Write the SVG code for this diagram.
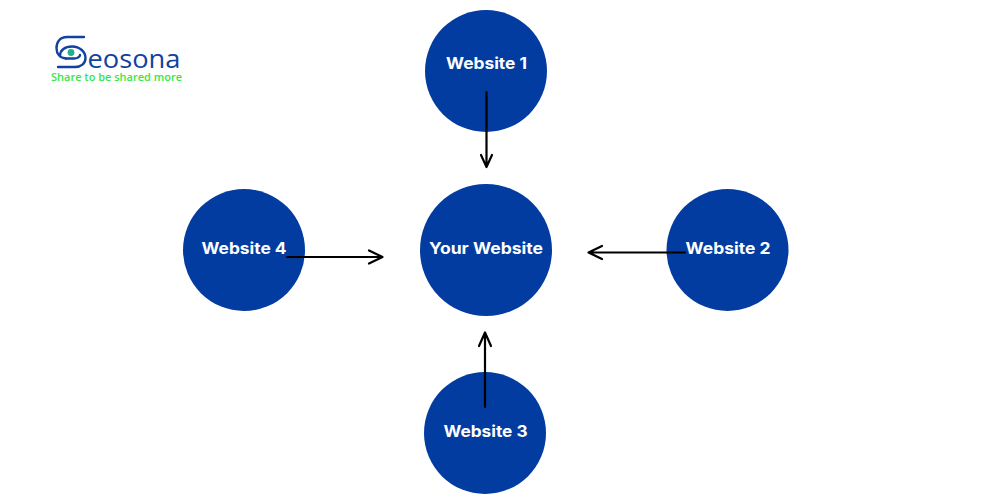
<svg xmlns="http://www.w3.org/2000/svg" width="1000" height="500" viewBox="0 0 1000 500">
<style>
.c{fill:#023ca0}
.t{font-family:Inter,"Liberation Sans",sans-serif;font-weight:700;font-size:16px;fill:#fff;text-anchor:middle}
.a{fill:none;stroke:#000;stroke-width:2.2;stroke-linecap:round;stroke-linejoin:round}
.s{fill:none;stroke:#12429f;stroke-width:2.4;stroke-linecap:round;stroke-linejoin:round}
</style>
<rect width="1000" height="500" fill="#fff"/>
<g id="logo">
<path class="s" d="M84 37H67C60 37 56.500 42 56.500 48C56.500 54 60 58 66 58.500"/>
<path class="s" d="M60 56C60 50 65 46.500 72 46.500C80 46.500 85.500 52 85.500 58C85.500 63.500 81 67 75 67H58"/>
<path class="s" d="M66 58.500H74C77 58.500 80 57 80 55"/>
<circle cx="71" cy="52.500" r="3.400" fill="#1fb08f"/>
<text x="87.500" y="67.500" font-family="'Open Sans','Liberation Sans',sans-serif" font-size="26" fill="#12429f" textLength="93" lengthAdjust="spacingAndGlyphs">eosona</text>
<text x="51" y="81" font-family="'Open Sans','Liberation Sans',sans-serif" font-size="11.500" font-weight="600" fill="#35e845" textLength="131" lengthAdjust="spacingAndGlyphs">Share to be shared more</text>
</g>
<g id="node-your-website"><circle class="c" cx="486" cy="250" r="66"/><text class="t" x="486" y="254" textLength="114" lengthAdjust="spacingAndGlyphs">Your Website</text></g>
<g id="node-website-1"><circle class="c" cx="486" cy="71" r="61"/><text class="t" x="486.500" y="69" textLength="81" lengthAdjust="spacingAndGlyphs">Website 1</text></g>
<g id="node-website-2"><circle class="c" cx="727.500" cy="250" r="61"/><text class="t" x="728" y="254" textLength="85" lengthAdjust="spacingAndGlyphs">Website 2</text></g>
<g id="node-website-3"><circle class="c" cx="485" cy="433" r="61"/><text class="t" x="485.500" y="437" textLength="84" lengthAdjust="spacingAndGlyphs">Website 3</text></g>
<g id="node-website-4"><circle class="c" cx="244" cy="250" r="61"/><text class="t" x="244" y="254" textLength="85" lengthAdjust="spacingAndGlyphs">Website 4</text></g>
<g id="connectors">
<path class="a" d="M486.500 92V166M481 155L486.500 167L492 155"/>
<path class="a" d="M685 252.500H589M602 246L588.500 252.500L602 259"/>
<path class="a" d="M485 407V333M479 346L485 332.500L491 346"/>
<path class="a" d="M287 257H382M369 250.500L382.500 257L369 263.500"/>
</g>
</svg>
